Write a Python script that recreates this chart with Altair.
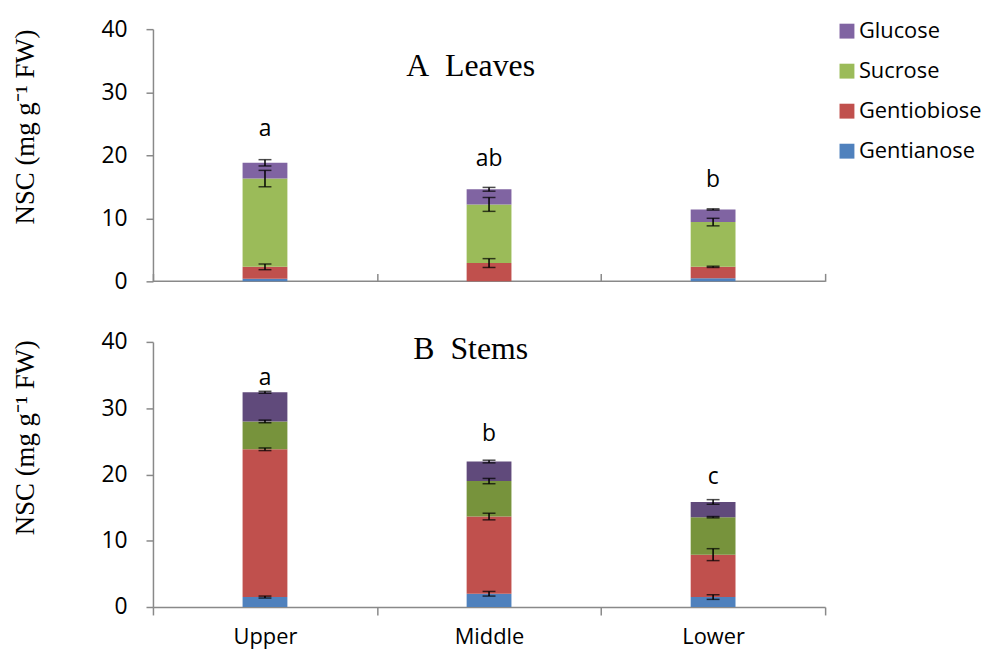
import altair as alt
import pandas as pd
import numpy as np

positions = ["Upper", "Middle", "Lower"]
sugars = ["Gentianose", "Gentiobiose", "Sucrose", "Glucose"]  # stacked bottom -> top
legend_order = ["Glucose", "Sucrose", "Gentiobiose", "Gentianose"]

# Leaves (panel A): segment values per position (Upper, Middle, Lower)
leaves_gentianose = [0.4, 0.0, 0.5]
leaves_gentiobiose = [1.9, 2.9, 1.8]
leaves_sucrose = [14.0, 9.3, 7.1]
leaves_glucose = [2.5, 2.4, 2.0]
leaves_err_gentianose = [0.0, 0.0, 0.0]
leaves_err_gentiobiose = [0.45, 0.7, 0.1]
leaves_err_sucrose = [1.3, 1.1, 0.6]
leaves_err_glucose = [0.5, 0.3, 0.1]
leaves_letters = ["a", "ab", "b"]
leaves_letter_y = [23.0, 18.3, 15.0]

# Stems (panel B)
stems_gentianose = [1.5, 2.0, 1.5]
stems_gentiobiose = [22.3, 11.65, 6.4]
stems_sucrose = [4.2, 5.35, 5.65]
stems_glucose = [4.4, 2.95, 2.3]
stems_err_gentianose = [0.15, 0.35, 0.35]
stems_err_gentiobiose = [0.2, 0.5, 0.9]
stems_err_sucrose = [0.2, 0.4, 0.1]
stems_err_glucose = [0.15, 0.2, 0.35]
stems_letters = ["a", "b", "c"]
stems_letter_y = [33.5, 25.1, 18.5]

colors_a = ["#8064A2", "#9BBB59", "#C0504D", "#4F81BD"]
colors_b = ["#604A7B", "#77933C", "#C0504D", "#4F81BD"]

AXIS_GRAY = "#898989"
SANS = "Open Sans"
SERIF = "Liberation Serif"
W = 677


def build_df(vals, errs):
    rows = []
    base = np.zeros(len(positions))
    for s, v, e in zip(sugars, vals, errs):
        v = np.array(v, dtype=float)
        top = base + v
        for i, p in enumerate(positions):
            rows.append({"pos": p, "sugar": s, "y0": base[i], "y1": top[i],
                         "lo": top[i] - e[i], "hi": top[i] + e[i], "err": e[i]})
        base = top
    return pd.DataFrame(rows)


def panel(df, colors, title, title_y, letters, letter_y, height, top_panel, ytitle_y):
    xscale = alt.Scale(domain=positions, paddingInner=0, paddingOuter=0)
    if top_panel:
        xaxis = alt.Axis(title=None, labels=False, domain=False, tickBand="extent",
                         tickSize=8, offset=-8, tickColor=AXIS_GRAY, tickWidth=1.5, grid=False)
    else:
        xaxis = alt.Axis(title=None, labels=True, domain=True, tickBand="extent",
                         tickSize=8, tickColor=AXIS_GRAY, tickWidth=1.5,
                         domainColor=AXIS_GRAY, domainWidth=1.5, labelFont=SANS,
                         labelFontSize=22, labelColor="black", labelPadding=12,
                         labelAngle=0, grid=False)
    yscale = alt.Scale(domain=[0, 40], nice=False)
    yaxis = alt.Axis(title="NSC (mg g\u207b\u00b9 FW)", values=[0, 10, 20, 30, 40],
                     grid=False, tickSize=7, tickColor=AXIS_GRAY, tickWidth=1.5,
                     domainColor=AXIS_GRAY, domainWidth=1.5, labelFont=SANS,
                     labelFontSize=23, labelColor="black", labelPadding=19,
                     titleFont=SERIF, titleFontSize=27, titleFontWeight="normal",
                     titleColor="black", titlePadding=62, titleY=ytitle_y)
    if top_panel:
        legend = alt.Legend(title=None, orient="none", legendX=688, legendY=-9,
                            symbolType="square", symbolSize=225, symbolStrokeWidth=0,
                            labelFont=SANS, labelFontSize=22, labelColor="black",
                            labelOffset=1, rowPadding=18.3, padding=0)
    else:
        legend = None

    bars = alt.Chart(df).mark_bar(width=alt.RelativeBandSize(0.2)).encode(
        x=alt.X("pos:N", scale=xscale, axis=xaxis, sort=positions),
        y=alt.Y("y0:Q", scale=yscale, axis=yaxis),
        y2="y1:Q",
        color=alt.Color("sugar:N", scale=alt.Scale(domain=legend_order, range=colors),
                        legend=legend),
    )
    edf = df[df["err"] > 0]
    rules = alt.Chart(edf).mark_rule(color="black", strokeWidth=1.5).encode(
        x=alt.X("pos:N", sort=positions), y="lo:Q", y2="hi:Q")
    cap_lo = alt.Chart(edf).mark_tick(color="black", size=13, thickness=1.5).encode(
        x=alt.X("pos:N", sort=positions), y="lo:Q")
    cap_hi = alt.Chart(edf).mark_tick(color="black", size=13, thickness=1.5).encode(
        x=alt.X("pos:N", sort=positions), y="hi:Q")
    ldf = pd.DataFrame({"pos": positions, "letter": letters, "ly": letter_y})
    letters_layer = alt.Chart(ldf).mark_text(font=SANS, fontSize=23, color="black",
                                             baseline="alphabetic").encode(
        x=alt.X("pos:N", sort=positions), y="ly:Q", text="letter:N")
    tdf = pd.DataFrame({"t": [title]})
    title_layer = alt.Chart(tdf).mark_text(font=SERIF, fontSize=32, color="black",
                                           baseline="alphabetic", align="center").encode(
        x=alt.value(320), y=alt.value(title_y), text="t:N")
    layers = [bars, rules, cap_lo, cap_hi, letters_layer, title_layer]
    if top_panel:
        zero = alt.Chart(tdf).mark_rule(color=AXIS_GRAY, strokeWidth=1.5).encode(
            y=alt.datum(0))
        layers.insert(0, zero)
    return alt.layer(*layers).properties(width=W, height=height)


df_a = build_df([leaves_gentianose, leaves_gentiobiose, leaves_sucrose, leaves_glucose],
                [leaves_err_gentianose, leaves_err_gentiobiose, leaves_err_sucrose, leaves_err_glucose])
df_b = build_df([stems_gentianose, stems_gentiobiose, stems_sucrose, stems_glucose],
                [stems_err_gentianose, stems_err_gentiobiose, stems_err_sucrose, stems_err_glucose])

top = panel(df_a, colors_a, "A\u00a0\u00a0Leaves", 47, leaves_letters, leaves_letter_y, 254, True, 98)
bottom = panel(df_b, colors_b, "B\u00a0\u00a0Stems", 17, stems_letters, stems_letter_y, 267, False, 96)

chart = alt.vconcat(top, bottom, spacing=61, bounds="flush").resolve_scale(
    color="independent", x="independent", y="independent"
).properties(
    padding={"left": 3, "top": 8, "right": 0, "bottom": 0}
).configure_view(stroke=None)

chart.save("out.html", embed_options={"renderer": "svg", "actions": False})
